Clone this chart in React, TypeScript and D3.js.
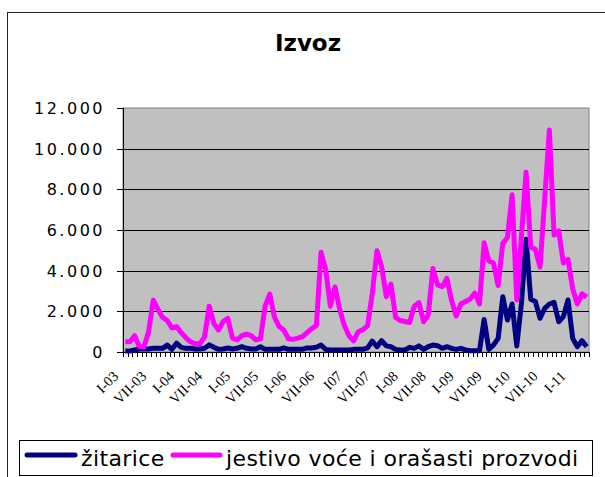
import React from 'react';
import * as d3 from 'd3';

// monthly export, I-03 .. IV-11 (100 months)
const title = 'Izvoz';
const seriesNames = ['žitarice', 'jestivo voće i orašasti prozvodi'];
const seriesColors = ['#000080', '#FF00FF'];

const tickLabels = [
  'I-03', 'VII-03', 'I-04', 'VII-04', 'I-05', 'VII-05', 'I-06', 'VII-06', 'I07',
  'VII-07', 'I-08', 'VII-08', 'I-09', 'VII-09', 'I-10', 'VII-10', 'I-11',
];

const zitarice = [
  50, 50, 100, 150, 150, 150, 180, 180, 180, 340,
  130, 430, 230, 180, 180, 150, 150, 180, 350, 230,
  130, 150, 200, 150, 180, 260, 180, 150, 150, 260,
  130, 130, 130, 130, 200, 130, 130, 130, 130, 200,
  200, 230, 340, 130, 100, 100, 100, 100, 100, 130,
  130, 130, 200, 540, 260, 560, 300, 260, 130, 100,
  100, 230, 180, 300, 130, 260, 340, 310, 180, 260,
  180, 130, 180, 100, 60, 60, 60, 1600, 130, 340,
  670, 2720, 1570, 2360, 300, 2400, 5540, 2590, 2480, 1660,
  2150, 2360, 2440, 1490, 1740, 2560, 670, 260, 560, 260,
];

const voce = [
  500, 500, 800, 270, 260, 1000, 2550, 2100, 1700, 1550,
  1180, 1250, 950, 700, 500, 400, 400, 750, 2250, 1400,
  1080, 1500, 1650, 680, 600, 800, 880, 800, 600, 650,
  2250, 2850, 1720, 1250, 1080, 650, 620, 680, 750, 950,
  1150, 1300, 4900, 4050, 2250, 3200, 2100, 1300, 800, 550,
  1000, 1100, 1300, 2900, 4980, 4200, 2720, 3340, 1700, 1550,
  1500, 1450, 2250, 2430, 1490, 1820, 4110, 3300, 3210, 3620,
  2550, 1770, 2360, 2480, 2600, 2900, 2360, 5370, 4480, 4380,
  3270, 5340, 5630, 7730, 2560, 5700, 8840, 5170, 5040, 4180,
  7550, 10920, 5750, 5960, 4380, 4550, 3110, 2360, 2860, 2700,
];

const yTicks = [0, 2000, 4000, 6000, 8000, 10000, 12000];

const W = 605;
const H = 477;
const plot = { left: 123, right: 589, top: 108, bottom: 352 };

const fmt = d3.formatLocale({ decimal: ',', thousands: '.', grouping: [3], currency: ['', ''] }).format(',');

const App = () => {
  const idx = d3.range(voce.length);
  const x = d3.scaleBand<number>().domain(idx).range([plot.left, plot.right]);
  const bw = x.bandwidth();
  const cx = (i: number) => (x(i) as number) + bw / 2;
  const y = d3.scaleLinear().domain([0, 12000]).range([plot.bottom, plot.top]);

  const line = d3.line<number>()
    .x((d, i) => cx(i))
    .y(d => y(d));

  const series = [zitarice, voce];

  return (
    <div style={{ position: 'absolute', left: 0, top: 0 }}>
      <svg width={W} height={H} style={{ display: 'block' }}>
        <rect x={0} y={0} width={W} height={H} fill="#fff" />
        <rect x={7.5} y={12.5} width={W + 10} height={H + 10} fill="none" stroke="#222" strokeWidth={1} />

        <text x={308} y={51} textAnchor="middle" fontFamily="DejaVu Sans" fontWeight="bold" fontSize={23}>
          {title}
        </text>

        {/* plot area */}
        <rect x={plot.left} y={plot.top} width={plot.right - plot.left} height={plot.bottom - plot.top}
          fill="#C0C0C0" stroke="#808080" strokeWidth={1} />

        {yTicks.filter(t => t > 0 && t < 12000).map(t => (
          <line key={'g' + t} x1={plot.left} x2={plot.right} y1={Math.round(y(t)) + 0.5} y2={Math.round(y(t)) + 0.5}
            stroke="#000" strokeWidth={1} />
        ))}

        {/* axes */}
        <line x1={plot.left + 0.5} x2={plot.left + 0.5} y1={plot.top} y2={plot.bottom} stroke="#000" />
        <line x1={plot.left} x2={plot.right} y1={plot.bottom + 0.5} y2={plot.bottom + 0.5} stroke="#000" />

        {yTicks.map(t => (
          <g key={'y' + t}>
            <line x1={plot.left - 6} x2={plot.left} y1={Math.round(y(t)) + 0.5} y2={Math.round(y(t)) + 0.5} stroke="#000" />
            <text x={105} y={y(t) + 6} textAnchor="end" fontFamily="DejaVu Sans" fontSize={16} letterSpacing={2.5}>
              {fmt(t)}
            </text>
          </g>
        ))}

        {d3.range(voce.length + 1).map(i => {
          const tx = Math.round(plot.left + i * bw) + 0.5;
          return <line key={'xt' + i} x1={tx} x2={tx} y1={plot.bottom} y2={plot.bottom + 5} stroke="#000" />;
        })}

        {tickLabels.map((lab, j) => {
          const px = cx(j * 6) - 6;
          const py = plot.bottom + 25;
          return (
            <text key={'xl' + j} x={px} y={py} transform={`rotate(-45, ${px}, ${py})`} textAnchor="end"
              fontFamily="Liberation Serif" fontSize={14.5}>
              {lab}
            </text>
          );
        })}

        {series.map((s, k) => (
          <path key={'s' + k} d={line(s) as string} fill="none" stroke={seriesColors[k]} strokeWidth={5}
            strokeLinejoin="round" />
        ))}

        {/* legend */}
        <rect x={19.5} y={440.5} width={573} height={35} fill="#fff" stroke="#000" strokeWidth={1} />
        <line x1={27} x2={75} y1={455} y2={455} stroke={seriesColors[0]} strokeWidth={5} strokeLinecap="round" />
        <text x={81} y={466} fontFamily="DejaVu Sans" fontSize={22} letterSpacing={0.4}>{seriesNames[0]}</text>
        <line x1={173} x2={220} y1={455} y2={455} stroke={seriesColors[1]} strokeWidth={5} strokeLinecap="round" />
        <text x={226} y={466} fontFamily="DejaVu Sans" fontSize={22} letterSpacing={0.4}>{seriesNames[1]}</text>
      </svg>
    </div>
  );
};

export default App;
